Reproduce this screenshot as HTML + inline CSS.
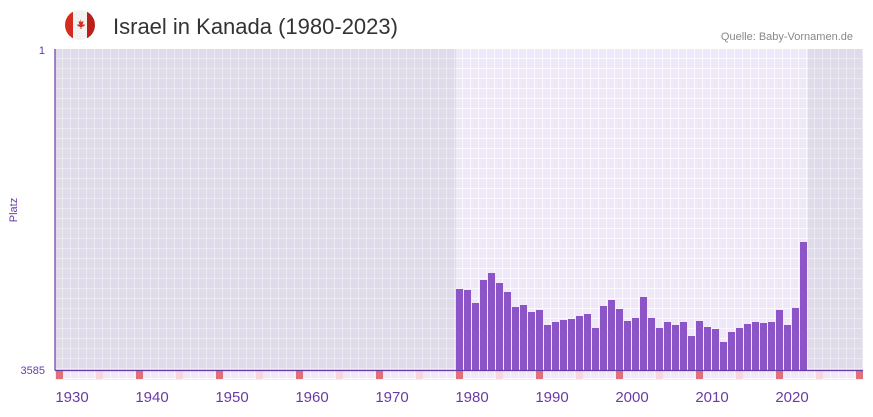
<!DOCTYPE html>
<html><head><meta charset="utf-8"><style>
body{margin:0;width:873px;height:412px;background:#fff;overflow:hidden;font-family:"Liberation Sans",sans-serif}
</style></head><body>
<svg width="873" height="412" xmlns="http://www.w3.org/2000/svg">
<defs>
<pattern id="gd" x="55" y="49" width="8" height="10" patternUnits="userSpaceOnUse">
<rect width="8" height="10" fill="#ece9f1"/><rect x="0" y="0" width="7" height="9" fill="#e0dbeb"/></pattern>
<pattern id="gl" x="55" y="49" width="8" height="10" patternUnits="userSpaceOnUse">
<rect width="8" height="10" fill="#fbf9fe"/><rect x="0" y="0" width="7" height="9" fill="#eee8f9"/></pattern>
<clipPath id="fc"><circle cx="80" cy="25" r="15"/></clipPath>
</defs>
<g clip-path="url(#fc)">
<rect x="64" y="9" width="32" height="32" fill="#f2f2f2"/>
<rect x="64" y="9" width="9" height="32" fill="#d52b1e"/>
<rect x="87" y="9" width="9" height="32" fill="#b82019"/>
</g>
<path d="M80 19 l1.5 3 2-1 -1 4 2-1 0 2 -3 1 0 2 -1 0 0-2 -3-1 0-2 2 1 -1-4 2 1z" fill="#d52b1e"/>
<text x="113" y="34" font-size="22" fill="#333">Israel in Kanada (1980-2023)</text>
<text x="853" y="40" font-size="11" fill="#888" text-anchor="end">Quelle: Baby-Vornamen.de</text>
<rect x="55" y="49" width="401" height="321" fill="url(#gd)"/>
<rect x="456" y="49" width="352" height="321" fill="url(#gl)"/>
<rect x="808" y="49" width="55" height="321" fill="url(#gd)"/>
<rect x="55" y="371" width="808" height="9" fill="url(#gl)"/>
<g id="bars" fill="#8b55c8"></g>
<g id="mk"></g>
<line x1="55" y1="49" x2="55" y2="370.5" stroke="#6a3aa8" stroke-width="1.2"/>
<line x1="55" y1="370.5" x2="863" y2="370.5" stroke="#6a3aa8" stroke-width="1.2"/>
<text x="45" y="54" font-size="11" fill="#6a3aa8" text-anchor="end">1</text>
<text x="45" y="374" font-size="11" fill="#6a3aa8" text-anchor="end">3585</text>
<text transform="translate(17,210) rotate(-90)" font-size="11" fill="#6a3aa8" text-anchor="middle">Platz</text>
<g font-size="15" fill="#6a3aa8" text-anchor="middle">
<text x="72" y="402">1930</text><text x="152" y="402">1940</text><text x="232" y="402">1950</text>
<text x="312" y="402">1960</text><text x="392" y="402">1970</text><text x="472" y="402">1980</text>
<text x="552" y="402">1990</text><text x="632" y="402">2000</text><text x="712" y="402">2010</text>
<text x="792" y="402">2020</text></g>
</svg>
<script>
var t=[289,290,303,280,273,283,292,307,305,312,310,325,322,320,319,316,314,328,306,300,309,321,318,297,318,328,322,325,322,336,321,327,329,342,332,328,324,322,323,322,310,325,308,242];
var s='';t.forEach(function(y,i){s+='<rect x="'+(456+i*8)+'" y="'+y+'" width="7" height="'+(370-y)+'"/>';});
document.getElementById('bars').innerHTML=s;
var m='';for(var x=56;x<863;x+=40){var red=((x-56)/40)%2==0;m+='<rect x="'+x+'" y="371" width="7" height="8" fill="'+(red?'#e0707a':'#f3d8e2')+'"/>';}
document.getElementById('mk').innerHTML=m;
</script>
</body></html>
